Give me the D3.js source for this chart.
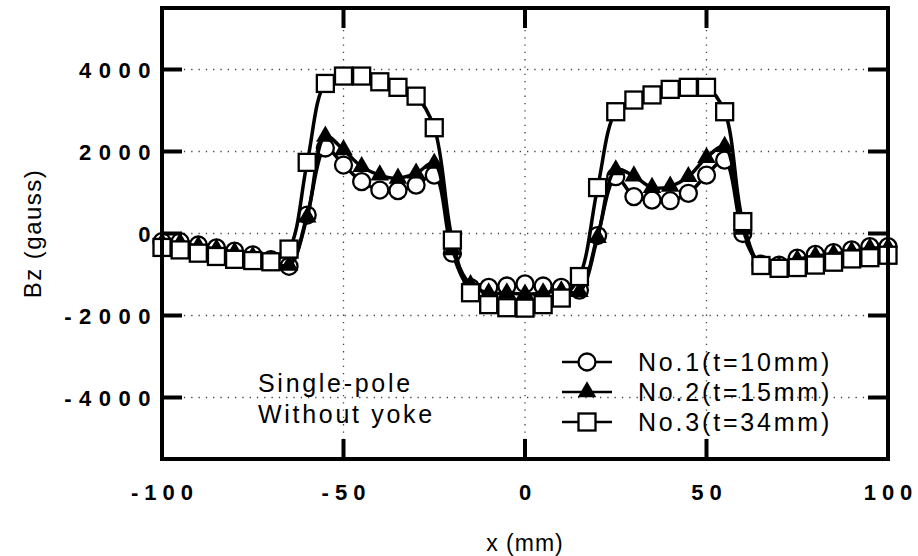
<!DOCTYPE html>
<html lang="en">
<head>
  <meta charset="UTF-8">
  <title>Bz vs x</title>
  <script src="https://d3js.org/d3.v7.min.js"></script>
  <style>
    body { margin: 0; background: #fff; }
    text { font-family: "Liberation Sans", Arial, sans-serif; fill: #000; }
  </style>
</head>
<body>
  <svg id="chart" width="918" height="556"></svg>

  <script>
    // x positions (mm)
    const xs = [-100, -95, -90, -85, -80, -75, -70, -65, -60, -55, -50, -45, -40, -35, -30, -25, -20,
      -15, -10, -5, 0, 5, 10, 15, 20, 25, 30, 35, 40, 45, 50, 55, 60, 65, 70, 75, 80, 85, 90, 95, 100];

    // Bz (gauss)
    const no1 = [-200, -200, -280, -350, -430, -520, -640, -800, 450, 2085, 1670, 1265, 1060, 1045, 1180, 1425, -480,
      -1320, -1315, -1280, -1230, -1280, -1315, -1380, -50, 1385, 900, 815, 800, 980, 1425, 1790, 0,
      -750, -770, -600, -510, -465, -400, -320, -320];
    const no2 = [-230, -230, -310, -380, -460, -560, -680, -780, 400, 2370, 2040, 1630, 1425, 1345, 1470, 1710, -400,
      -1250, -1450, -1450, -1480, -1450, -1400, -1420, -100, 1550, 1400, 1120, 1150, 1385, 1850, 2120, 100,
      -780, -800, -640, -550, -500, -440, -360, -350];
    const no3 = [-340, -400, -480, -560, -630, -660, -690, -380, 1735, 3660, 3840, 3840, 3700, 3565, 3350, 2580, -160,
      -1445, -1735, -1810, -1820, -1735, -1575, -1050, 1120, 2970, 3255, 3380, 3515, 3565, 3565, 2970, 290,
      -780, -850, -830, -770, -700, -620, -590, -530];

    const seriesNames = ['No.1(t=10mm)', 'No.2(t=15mm)', 'No.3(t=34mm)'];
    const seriesShapes = ['circle', 'triangle', 'square'];
    const xTicks = [-100, -50, 0, 50, 100];
    const yTicks = [-4000, -2000, 0, 2000, 4000];
    const notes = ['Single-pole', 'Without yoke'];

    const svg = d3.select('#chart');
    const pL = 162, pR = 888, pT = 8, pB = 459;
    const tickLen = 20, tw = 4;

    const x = d3.scaleLinear().domain([-100, 100]).range([pL, pR]);
    const y = d3.scaleLinear().domain([-5500, 5500]).range([pB, pT]);

    // dotted grid
    const grid = svg.append('g').attr('stroke', '#444').attr('stroke-width', 1.3)
      .attr('stroke-dasharray', '1.3,6');
    grid.selectAll('line.gx').data([-50, 0, 50]).enter().append('line')
      .attr('x1', d => x(d)).attr('x2', d => x(d)).attr('y1', pT).attr('y2', pB);
    grid.selectAll('line.gy').data(yTicks).enter().append('line')
      .attr('y1', d => y(d)).attr('y2', d => y(d)).attr('x1', pL).attr('x2', pR);

    // series
    const seriesData = [no1, no2, no3].map(vals => vals.map((v, i) => ({ x: xs[i], y: v })));
    const line = d3.line().x(d => x(d.x)).y(d => y(d.y)).curve(d3.curveCatmullRom.alpha(0.5));

    function drawMarker(g, shape, cx, cy) {
      if (shape === 'circle') {
        g.append('circle').attr('cx', cx).attr('cy', cy).attr('r', 8.5)
          .attr('fill', '#fff').attr('stroke', '#000').attr('stroke-width', 2.3);
      } else if (shape === 'triangle') {
        g.append('path').attr('d', d3.symbol(d3.symbolTriangle, 150)())
          .attr('transform', `translate(${cx},${cy})`)
          .attr('fill', '#000');
      } else {
        g.append('rect').attr('x', cx - 8.5).attr('y', cy - 8.5).attr('width', 17).attr('height', 17)
          .attr('fill', '#fff').attr('stroke', '#000').attr('stroke-width', 2.3);
      }
    }

    seriesData.forEach((pts, k) => {
      const g = svg.append('g');
      g.append('path').datum(pts).attr('d', line)
        .attr('fill', 'none').attr('stroke', '#000').attr('stroke-width', 3.5);
      pts.forEach(p => drawMarker(g, seriesShapes[k], x(p.x), y(p.y)));
    });

    // frame
    svg.append('path')
      .attr('d', `M${pL},${pT}H${pR}V${pB}H${pL}Z`)
      .attr('fill', 'none').attr('stroke', '#000').attr('stroke-width', 4);

    // inward ticks on all four sides
    const tickG = svg.append('g').attr('fill', '#000');
    tickG.selectAll('rect.tb').data([-50, 0, 50]).enter().append('rect')
      .attr('x', d => x(d) - tw / 2).attr('y', pB - tickLen).attr('width', tw).attr('height', tickLen);
    tickG.selectAll('rect.tt').data([-50, 0, 50]).enter().append('rect')
      .attr('x', d => x(d) - tw / 2).attr('y', pT).attr('width', tw).attr('height', tickLen);
    tickG.selectAll('rect.tl').data(yTicks).enter().append('rect')
      .attr('x', pL).attr('y', d => y(d) - tw / 2).attr('width', tickLen).attr('height', tw);
    tickG.selectAll('rect.tr').data(yTicks).enter().append('rect')
      .attr('x', pR - tickLen).attr('y', d => y(d) - tw / 2).attr('width', tickLen).attr('height', tw);

    // tick labels
    const fmt = d => d3.format('d')(d).replace('−', '-');
    svg.append('g').selectAll('text').data(xTicks).enter().append('text')
      .attr('x', d => x(d) + 3).attr('y', 500)
      .attr('text-anchor', 'middle')
      .style('font-size', '22px').style('font-weight', 'bold').style('letter-spacing', '6px')
      .text(fmt);
    svg.append('g').selectAll('text').data(yTicks).enter().append('text')
      .attr('x', 158).attr('y', d => y(d) + 8)
      .attr('text-anchor', 'end')
      .style('font-size', '22px').style('font-weight', 'bold').style('letter-spacing', '7.5px')
      .text(fmt);

    svg.append('text').attr('x', x(0)).attr('y', 551).attr('text-anchor', 'middle')
      .style('font-size', '23px').style('letter-spacing', '1px').text('x  (mm)');
    svg.append('text').attr('transform', `translate(41,${y(0)}) rotate(-90)`)
      .attr('text-anchor', 'middle').style('font-size', '24px').style('letter-spacing', '1.5px')
      .text('Bz (gauss)');

    // legend
    const legY = [362, 392, 422];
    seriesNames.forEach((name, k) => {
      const g = svg.append('g');
      g.append('line').attr('x1', 562).attr('x2', 612).attr('y1', legY[k]).attr('y2', legY[k])
        .attr('stroke', '#000').attr('stroke-width', 2.5);
      drawMarker(g, seriesShapes[k], 587, legY[k]);
      g.append('text').attr('x', 638).attr('y', legY[k] + 9)
        .style('font-size', '25px').style('letter-spacing', '2.8px').text(name);
    });

    // annotation
    notes.forEach((t, i) => {
      svg.append('text').attr('x', 258).attr('y', 392 + i * 31)
        .style('font-size', '25px').style('letter-spacing', '2.7px').text(t);
    });
  </script>
</body>
</html>
